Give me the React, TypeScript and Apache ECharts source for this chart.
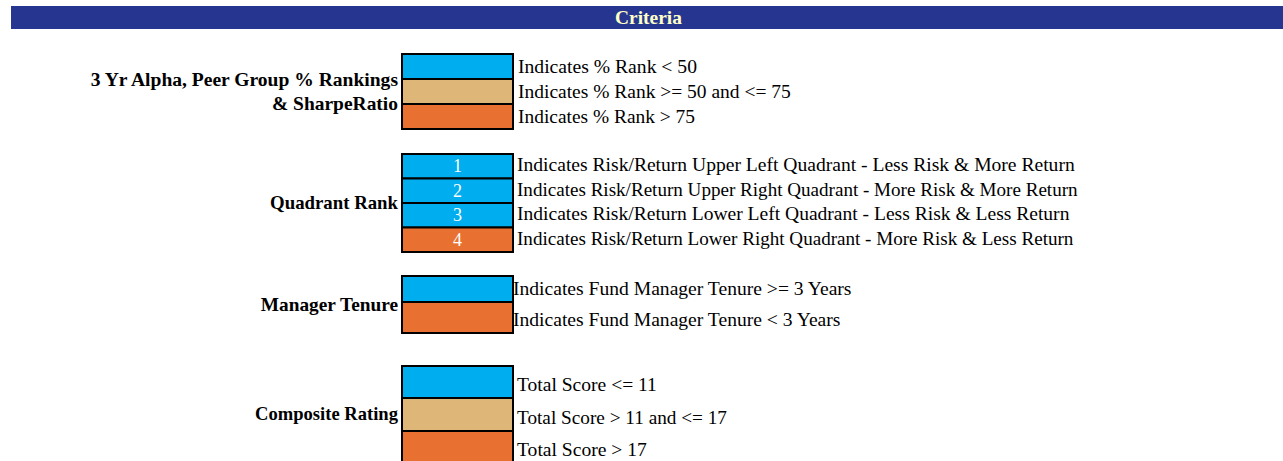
import React, { useEffect, useRef } from "react";
import * as echarts from "echarts";

// ---- data ----
const HEADER_TITLE = "Criteria";

const GROUP_TITLES = [
  ["3 Yr Alpha, Peer Group % Rankings", "& SharpeRatio"],
  ["Quadrant Rank"],
  ["Manager Tenure"],
  ["Composite Rating"],
];

const RANK_LABELS = [
  "Indicates % Rank < 50",
  "Indicates % Rank >= 50 and <= 75",
  "Indicates % Rank > 75",
];
const RANK_COLORS = ["blue", "tan", "orange"];
const RANK_CELLS = ["", "", ""];

const QUADRANT_LABELS = [
  "Indicates Risk/Return Upper Left Quadrant - Less Risk & More Return",
  "Indicates Risk/Return Upper Right Quadrant - More Risk & More Return",
  "Indicates Risk/Return Lower Left Quadrant - Less Risk & Less Return",
  "Indicates Risk/Return Lower Right Quadrant - More Risk & Less Return",
];
const QUADRANT_COLORS = ["blue", "blue", "blue", "orange"];
const QUADRANT_CELLS = ["1", "2", "3", "4"];

const TENURE_LABELS = [
  "Indicates Fund Manager Tenure >= 3 Years",
  "Indicates Fund Manager Tenure < 3 Years",
];
const TENURE_COLORS = ["blue", "orange"];
const TENURE_CELLS = ["", ""];

const COMPOSITE_LABELS = [
  "Total Score <= 11",
  "Total Score > 11 and <= 17",
  "Total Score > 17",
];
const COMPOSITE_COLORS = ["blue", "tan", "orange"];
const COMPOSITE_CELLS = ["", "", ""];

// ---- styles / layout ----
const PALETTE: Record<string, string> = {
  blue: "#00AEEF",
  tan: "#DEB678",
  orange: "#E87131",
};
const FONT = "'Liberation Serif', 'Times New Roman', serif";
const LABEL_SIZES = [18, 19, 19, 19];
const TITLE_SIZE = 18;

const GROUP_LAYOUT = [
  {
    top: 54,
    heights: [25, 25, 25],
    textX: 518,
    textDy: [0, 0, 0],
    textRight: [697, 791, 695],
    titleY: [80, 104],
    titleLeft: [88, 272],
  },
  {
    top: 154,
    heights: [24.5, 24.5, 24.5, 24.5],
    textX: 517,
    textDy: [-1.5, -1.5, -1.5, -1.5],
    textRight: [1075, 1078, 1070, 1074],
    titleY: [203],
    titleLeft: [270],
  },
  {
    top: 276,
    heights: [26, 31],
    textX: 513,
    textDy: [0, 2],
    textRight: [853, 842],
    titleY: [305],
    titleLeft: [260],
  },
  {
    top: 366,
    heights: [32, 33, 34],
    textX: 517,
    textDy: [3, 3, 2],
    textRight: [657, 727, 647],
    titleY: [414],
    titleLeft: [255],
  },
];

const GROUPS = [
  { labels: RANK_LABELS, colors: RANK_COLORS, cells: RANK_CELLS },
  { labels: QUADRANT_LABELS, colors: QUADRANT_COLORS, cells: QUADRANT_CELLS },
  { labels: TENURE_LABELS, colors: TENURE_COLORS, cells: TENURE_CELLS },
  { labels: COMPOSITE_LABELS, colors: COMPOSITE_COLORS, cells: COMPOSITE_CELLS },
];

const CELL_X = 402;
const CELL_W = 111;
const TITLE_RIGHT = 398;
const HEADER = { x: 11, y: 6, w: 1272, h: 23, textLeft: 615, textRight: 682 };

let measureCtx: CanvasRenderingContext2D | null = null;
function measure(text: string, font: string): number {
  if (!measureCtx) measureCtx = document.createElement("canvas").getContext("2d");
  if (!measureCtx) return 1;
  measureCtx.font = font;
  return measureCtx.measureText(text).width || 1;
}

function fitText(
  text: string,
  font: string,
  x: number,
  y: number,
  width: number,
  align: "left" | "right" | "center",
  fill: string,
  z = 3
) {
  const sx = width / measure(text, font);
  return {
    type: "text",
    x,
    y,
    scaleX: sx,
    z,
    style: { text, fill, font, textAlign: align, textVerticalAlign: "middle" },
  };
}

function buildGraphics() {
  const els: any[] = [];
  els.push({
    type: "rect",
    shape: { x: HEADER.x, y: HEADER.y, width: HEADER.w, height: HEADER.h },
    style: { fill: "#263690" },
  });
  els.push(
    fitText(
      HEADER_TITLE,
      `bold 18px ${FONT}`,
      (HEADER.textLeft + HEADER.textRight) / 2,
      HEADER.y + HEADER.h / 2 + 0.5,
      HEADER.textRight - HEADER.textLeft,
      "center",
      "#FFFFC8"
    )
  );

  GROUPS.forEach((g, gi) => {
    const lay = GROUP_LAYOUT[gi];
    let y = lay.top;
    g.labels.forEach((label, i) => {
      const h = lay.heights[i];
      els.push({
        type: "rect",
        shape: { x: CELL_X, y, width: CELL_W, height: h },
        style: { fill: PALETTE[g.colors[i]], stroke: "#000", lineWidth: 2 },
        z: 1,
      });
      if (g.cells[i]) {
        els.push({
          type: "text",
          x: CELL_X + CELL_W / 2,
          y: y + h / 2,
          style: {
            text: g.cells[i],
            fill: "#FFFFFF",
            font: `18px ${FONT}`,
            textAlign: "center",
            textVerticalAlign: "middle",
          },
          z: 2,
        });
      }
      els.push(
        fitText(
          label,
          `${LABEL_SIZES[gi]}px ${FONT}`,
          lay.textX,
          y + h / 2 + lay.textDy[i],
          lay.textRight[i] - lay.textX,
          "left",
          "#000000"
        )
      );
      y += h;
    });
    GROUP_TITLES[gi].forEach((line, li) => {
      els.push(
        fitText(
          line,
          `bold ${TITLE_SIZE}px ${FONT}`,
          TITLE_RIGHT,
          lay.titleY[li],
          TITLE_RIGHT - lay.titleLeft[li],
          "right",
          "#000000"
        )
      );
    });
  });
  return els;
}

export default function App() {
  const ref = useRef<HTMLDivElement>(null);
  useEffect(() => {
    if (!ref.current) return;
    const chart = echarts.init(ref.current, null, { renderer: "svg" });
    chart.setOption({
      animation: false,
      backgroundColor: "#FFFFFF",
      graphic: { elements: buildGraphics() },
    });
    return () => chart.dispose();
  }, []);
  return (
    <div
      ref={ref}
      style={{ position: "fixed", left: 0, top: 0, width: 1283, height: 461, background: "#fff" }}
    />
  );
}
